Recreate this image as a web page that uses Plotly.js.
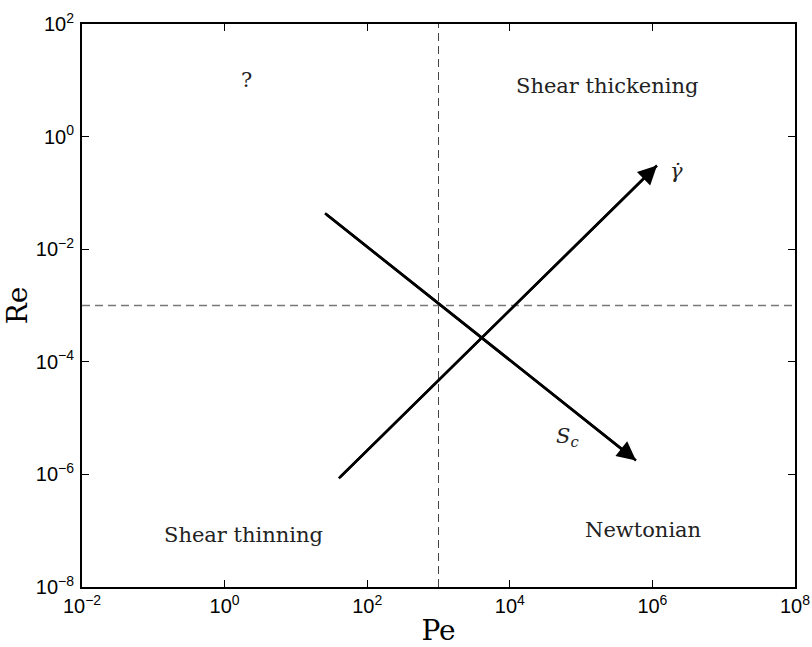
<!DOCTYPE html>
<html>
<head>
<meta charset="utf-8">
<script src="https://cdn.plot.ly/plotly-3.0.1.min.js"></script>
<style>html,body{margin:0;padding:0;background:#fff;}#chart{width:812px;height:647px;}</style>
</head>
<body>
<div id="chart"></div>
<script>
// Axis ticks
const xTickVals = [1e-2, 1e0, 1e2, 1e4, 1e6, 1e8];
const xTickText = ["10<sup>−2</sup>", "10<sup>0</sup>", "10<sup>2</sup>", "10<sup>4</sup>", "10<sup>6</sup>", "10<sup>8</sup>"];
const yTickVals = [1e-8, 1e-6, 1e-4, 1e-2, 1e0, 1e2];
const yTickText = ["10<sup>−8</sup>", "10<sup>−6</sup>", "10<sup>−4</sup>", "10<sup>−2</sup>", "10<sup>0</sup>", "10<sup>2</sup>"];

// Regime boundaries
const peCrit = 1e3;
const reCrit = 1e-3;
const peRange = [1e-2, 1e8];
const reRange = [1e-8, 1e2];

// Arrows: [start, tip]
const gammaPe = [40, 1.16e6];
const gammaRe = [8.5e-7, 0.307];
const scPe = [25.6, 5.9e5];
const scRe = [0.0434, 1.77e-6];

// Region labels
const regionText = ["?", "Shear thickening", "Shear thinning", "Newtonian"];
const regionPe = [2.06, 2.3e5, 1.87, 7.4e5];
const regionRe = [10.2, 8.0, 8.3e-8, 1.02e-7];

// Arrow labels
const arrowText = ["<i>γ̇</i>", "<i>S</i><sub><i>c</i></sub>"];
const arrowPe = [2.2e6, 6.5e4];
const arrowRe = [0.24, 4.7e-6];

const L = Math.log10;
const serif = "DejaVu Serif";

const traces = [
  {x: [peCrit, peCrit], y: reRange, mode: "lines", line: {color: "#444", width: 1, dash: "8px,5px"}, hoverinfo: "skip"},
  {x: peRange, y: [reCrit, reCrit], mode: "lines", line: {color: "#777", width: 1.3, dash: "8px,5px"}, hoverinfo: "skip"},
  {x: gammaPe, y: gammaRe, mode: "lines", line: {color: "#000", width: 2.6}, hoverinfo: "skip"},
  {x: scPe, y: scRe, mode: "lines", line: {color: "#000", width: 2.6}, hoverinfo: "skip"}
];

const annotations = [];
[[gammaPe, gammaRe], [scPe, scRe]].forEach(([px, py]) => {
  annotations.push({
    x: L(px[1]), y: L(py[1]), xref: "x", yref: "y",
    ax: L(px[0]), ay: L(py[0]), axref: "x", ayref: "y",
    showarrow: true, arrowhead: 2, arrowsize: 1.45, arrowwidth: 2.6, arrowcolor: "#000",
    standoff: 0, startstandoff: 0, text: ""
  });
});
regionText.forEach((t, i) => {
  annotations.push({
    x: L(regionPe[i]), y: L(regionRe[i]), xref: "x", yref: "y", text: t, showarrow: false,
    font: {family: serif, size: 21, color: "#222"}
  });
});
arrowText.forEach((t, i) => {
  annotations.push({
    x: L(arrowPe[i]), y: L(arrowRe[i]), xref: "x", yref: "y", text: t, showarrow: false,
    font: {family: serif, size: 21, color: "#222"}
  });
});

const axisCommon = {
  type: "log", showgrid: false, zeroline: false,
  showline: true, linecolor: "#000", linewidth: 2, mirror: "ticks",
  ticks: "inside", ticklen: 7, tickwidth: 1.2, tickcolor: "#000",
  tickfont: {family: "Liberation Sans, Arial", size: 20, color: "#000"}
};

const layout = {
  width: 812, height: 647,
  margin: {l: 82, r: 17, t: 24, b: 60},
  paper_bgcolor: "#fff", plot_bgcolor: "#fff",
  showlegend: false,
  xaxis: Object.assign({}, axisCommon, {
    range: [L(peRange[0]), L(peRange[1])], tickvals: xTickVals, ticktext: xTickText,
    ticklabelstandoff: 0,
    title: {text: "Pe", font: {family: serif, size: 28, color: "#000"}, standoff: 7}
  }),
  yaxis: Object.assign({}, axisCommon, {
    range: [L(reRange[0]), L(reRange[1])], tickvals: yTickVals, ticktext: yTickText,
    ticklabelstandoff: 2,
    title: {text: "Re", font: {family: serif, size: 28, color: "#000"}, standoff: 0}
  }),
  annotations: annotations
};

Plotly.newPlot("chart", traces, layout, {displayModeBar: false, staticPlot: true});
</script>
</body>
</html>
